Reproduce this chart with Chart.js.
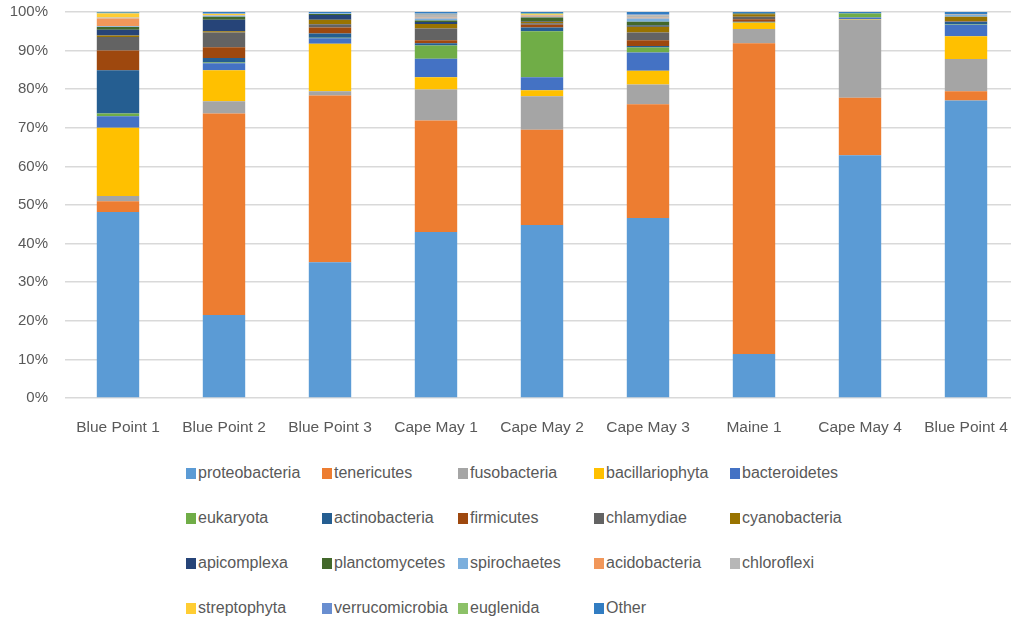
<!DOCTYPE html>
<html>
<head>
<meta charset="utf-8">
<script src="https://cdn.jsdelivr.net/npm/chart.js@4/dist/chart.umd.min.js"></script>
<style>
    body {
        margin: 0;
        width: 1011px;
        height: 619px;
        overflow: hidden;
        background: #fff;
        position: relative;
        font-family: "Liberation Sans", Arial, sans-serif;
    }
    #chart {
        position: absolute;
        left: 0;
        top: 0;
    }
    .legend-item {
        position: absolute;
        height: 20px;
        line-height: 20px;
        font-size: 16px;
        color: #595959;
        white-space: nowrap;
    }
    .legend-box {
        display: inline-block;
        width: 10px;
        height: 11px;
        margin-right: 2px;
        vertical-align: -1px;
    }
</style>
</head>
<body>
<canvas id="chart" width="1020" height="440"></canvas>
<div id="legend"></div>

<script>
const categories = ['Blue Point 1', 'Blue Point 2', 'Blue Point 3', 'Cape May 1', 'Cape May 2',
    'Cape May 3', 'Maine 1', 'Cape May 4', 'Blue Point 4'];

// percent of reads per sample
const proteobacteria  = [48.2, 21.5, 35.2, 43.0, 44.8, 46.6, 11.4, 62.9, 77.1];
const tenericutes     = [2.8, 52.2, 43.2, 28.9, 24.7, 29.5, 80.5, 14.9, 2.4];
const fusobacteria    = [1.3, 3.2, 1.1, 8.0, 8.7, 5.1, 3.7, 20.2, 8.3];
const bacillariophyta = [17.7, 8.0, 12.3, 3.2, 1.5, 3.6, 1.6, 0.1, 5.9];
const bacteroidetes   = [3.0, 1.8, 1.4, 4.8, 3.4, 4.7, 0.1, 0.5, 3.0];
const eukaryota       = [0.7, 0.2, 0.1, 3.4, 11.9, 1.3, 0.1, 1.0, 0.1];
const actinobacteria  = [11.2, 1.2, 1.1, 0.6, 1.0, 0.4, 0.1, 0.1, 0.7];
const firmicutes      = [5.1, 2.8, 1.6, 0.8, 0.7, 1.5, 0.6, 0, 0.1];
const chlamydiae      = [3.5, 3.8, 0.8, 3.0, 0.4, 2.0, 0.7, 0, 0.1];
const cyanobacteria   = [0.4, 0.3, 1.2, 1.2, 0.4, 1.5, 0.6, 0, 1.1];
const apicomplexa     = [1.5, 3.0, 1.2, 0.5, 0.2, 0.3, 0.1, 0, 0];
const planctomycetes  = [0.7, 0.8, 0.3, 0.4, 0.9, 1.0, 0.1, 0, 0];
const spirochaetes    = [0.2, 0.2, 0.1, 0.5, 0.2, 0.8, 0, 0, 0.4];
const acidobacteria   = [2.0, 0.1, 0, 0.2, 0.2, 0.2, 0, 0, 0];
const chloroflexi     = [0.3, 0.1, 0, 0.7, 0.2, 0.5, 0, 0, 0.3];
const streptophyta    = [1.0, 0.3, 0, 0.1, 0.2, 0.1, 0, 0, 0];
const verrucomicrobia = [0.1, 0.1, 0.1, 0.3, 0.1, 0.3, 0, 0, 0];
const euglenida       = [0.1, 0.1, 0, 0.1, 0.1, 0.1, 0, 0, 0];
const other           = [0.2, 0.3, 0.3, 0.3, 0.4, 0.5, 0.4, 0.3, 0.5];

const seriesNames = ['proteobacteria', 'tenericutes', 'fusobacteria', 'bacillariophyta', 'bacteroidetes',
    'eukaryota', 'actinobacteria', 'firmicutes', 'chlamydiae', 'cyanobacteria',
    'apicomplexa', 'planctomycetes', 'spirochaetes', 'acidobacteria', 'chloroflexi',
    'streptophyta', 'verrucomicrobia', 'euglenida', 'Other'];
const seriesValues = [proteobacteria, tenericutes, fusobacteria, bacillariophyta, bacteroidetes,
    eukaryota, actinobacteria, firmicutes, chlamydiae, cyanobacteria,
    apicomplexa, planctomycetes, spirochaetes, acidobacteria, chloroflexi,
    streptophyta, verrucomicrobia, euglenida, other];

const yTicks = [0, 10, 20, 30, 40, 50, 60, 70, 80, 90, 100];

// office palette
const colors = ['#5B9BD5', '#ED7D31', '#A5A5A5', '#FFC000', '#4472C4',
    '#70AD47', '#255E91', '#9E480E', '#636363', '#997300',
    '#264478', '#43682B', '#7CAFDD', '#F1975A', '#B7B7B7',
    '#FFCD33', '#698ED0', '#8CC168', '#327DC2'];

// legend grid: 5 columns, 4 rows (swatch left edge, row centre)
const legendColX = [186, 322, 458, 594, 730];
const legendRowY = [473, 518, 563, 608];

const datasets = seriesNames.map((name, i) => ({
    label: name,
    data: seriesValues[i],
    backgroundColor: colors[i],
    borderWidth: 0,
    barPercentage: 0.4,
    categoryPercentage: 1.0
}));

const ctx = document.getElementById('chart').getContext('2d');
new Chart(ctx, {
    type: 'bar',
    data: {
        labels: categories,
        datasets: datasets
    },
    options: {
        responsive: false,
        animation: false,
        layout: {
            padding: { top: 0, right: 1, left: 0, bottom: 0 }
        },
        plugins: {
            legend: { display: false },
            tooltip: { enabled: false }
        },
        scales: {
            x: {
                stacked: true,
                grid: { display: false },
                border: { display: false },
                ticks: {
                    color: '#595959',
                    font: { family: '"Liberation Sans", Arial, sans-serif', size: 15.5 },
                    padding: 12,
                    maxRotation: 0
                },
                afterFit: function (scale) { scale.height = 42; }
            },
            y: {
                stacked: true,
                min: 0,
                max: 100,
                afterBuildTicks: function (scale) {
                    scale.ticks = yTicks.map(v => ({ value: v }));
                },
                grid: { color: '#D9D9D9', lineWidth: 1.5, drawTicks: false },
                border: { display: false },
                ticks: {
                    color: '#595959',
                    font: { family: '"Liberation Sans", Arial, sans-serif', size: 15 },
                    padding: 17,
                    callback: v => v + '%'
                },
                afterFit: function (scale) {
                    scale.width = 65;
                    scale.paddingTop = 12;
                    scale.paddingBottom = 0;
                }
            }
        }
    }
});

// html legend laid out on a fixed grid like the original
const legend = document.getElementById('legend');
seriesNames.forEach((name, k) => {
    const item = document.createElement('div');
    item.className = 'legend-item';
    item.style.left = legendColX[k % 5] + 'px';
    item.style.top = (legendRowY[Math.floor(k / 5)] - 10) + 'px';
    item.innerHTML = '<span class="legend-box" style="background:' + colors[k] + '"></span>' + name;
    legend.appendChild(item);
});
</script>
</body>
</html>
